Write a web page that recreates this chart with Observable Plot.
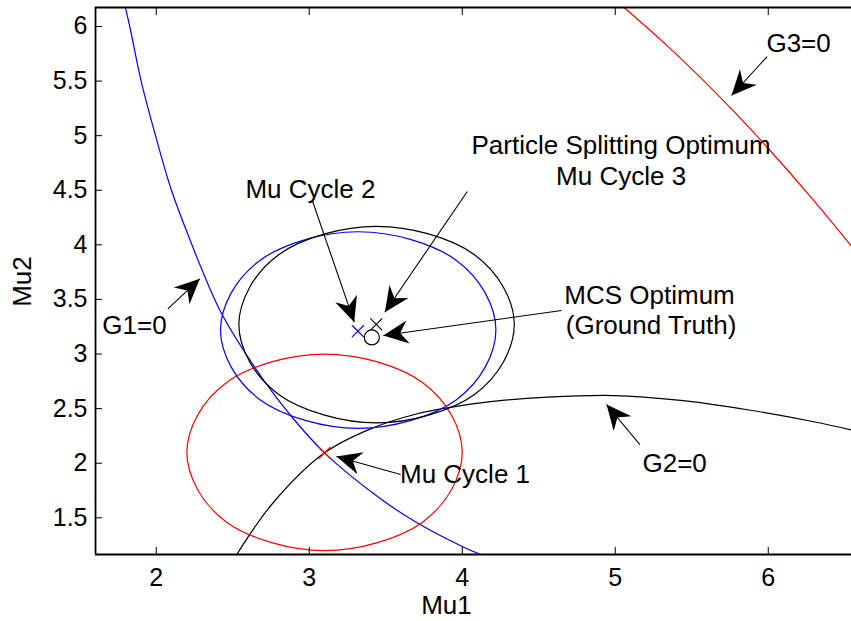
<!DOCTYPE html>
<html><head><meta charset="utf-8">
<script src="https://cdn.jsdelivr.net/npm/d3@7"></script>
<script src="https://cdn.jsdelivr.net/npm/@observablehq/plot@0.6"></script>
<style>
html,body{margin:0;padding:0;background:#fff;}
#chart{width:851px;height:621px;overflow:hidden;}
</style></head><body><div id="chart"></div>
<script>
// ---- axis data ----
const xTicks = [2, 3, 4, 5, 6];
const yTicks = [1.5, 2, 2.5, 3, 3.5, 4, 4.5, 5, 5.5, 6];
const xDomain = [1.603, 6.544];
const yDomain = [1.164, 6.174];
const xLabel = "Mu1";
const yLabel = "Mu2";

// ---- constraint boundaries ----
const g1X = [1.797, 1.827, 1.902, 1.995, 2.100, 2.235, 2.290, 2.425, 2.703, 2.878, 3.100, 3.466, 3.716, 4.010, 4.152];
const g1Y = [6.180, 6.000, 5.496, 5.002, 4.498, 3.994, 3.802, 3.376, 2.758, 2.438, 2.095, 1.674, 1.445, 1.231, 1.146];

const g2X = [2.520, 2.760, 3.100, 3.401, 3.706, 3.910, 4.185, 4.556, 4.991, 5.427, 5.863, 6.298, 6.560];
const g2Y = [1.150, 1.631, 2.095, 2.315, 2.453, 2.510, 2.565, 2.605, 2.620, 2.575, 2.490, 2.380, 2.300];

const g3X = [5.013, 5.067, 5.340, 5.558, 5.775, 5.993, 6.298, 6.560];
const g3Y = [6.226, 6.162, 5.823, 5.532, 5.222, 4.894, 4.406, 3.960];

// ---- Mu cycle contours ----
const cycle1X = [4.00, 3.93, 3.74, 3.44, 3.10, 2.76, 2.46, 2.27, 2.20, 2.27, 2.46, 2.76, 3.10, 3.44, 3.74, 3.93];
const cycle1Y = [2.10, 2.44, 2.74, 2.93, 3.00, 2.93, 2.74, 2.44, 2.10, 1.76, 1.46, 1.27, 1.20, 1.27, 1.46, 1.76];

const cycle2X = [4.22, 4.15, 3.96, 3.66, 3.32, 2.98, 2.68, 2.49, 2.42, 2.49, 2.68, 2.98, 3.32, 3.66, 3.96, 4.15];
const cycle2Y = [3.22, 3.56, 3.86, 4.05, 4.12, 4.05, 3.86, 3.56, 3.22, 2.88, 2.58, 2.39, 2.32, 2.39, 2.58, 2.88];

const cycle3X = [4.34, 4.27, 4.08, 3.78, 3.44, 3.10, 2.80, 2.61, 2.54, 2.61, 2.80, 3.10, 3.44, 3.78, 4.08, 4.27];
const cycle3Y = [3.27, 3.61, 3.91, 4.10, 4.17, 4.10, 3.91, 3.61, 3.27, 2.93, 2.63, 2.44, 2.37, 2.44, 2.63, 2.93];

// ---- optima ----
const optCycle1 = [3.100, 2.095];
const optCycle2 = [3.318, 3.209];
const optCycle3 = [3.438, 3.271];
const optMCS = [3.409, 3.152];

// ---- annotation arrows (tail -> tip) ----
const arrowName = ["G1", "Mu2", "Mu3", "MCS", "Mu1", "G2", "G3"];
const arrowX1 = [2.076, 3.020, 4.033, 4.649, 3.597, 5.161, 5.993];
const arrowY1 = [3.414, 4.406, 4.489, 3.399, 1.897, 2.171, 5.725];
const arrowX2 = [2.285, 3.294, 3.494, 3.484, 3.178, 4.943, 5.760];
const arrowY2 = [3.689, 3.292, 3.383, 3.170, 2.062, 2.538, 5.368];

// ---- annotation texts ----
const noteText = ["Particle Splitting Optimum", "Mu Cycle 3", "Mu Cycle 2", "MCS Optimum", "(Ground Truth)", "G1=0", "Mu Cycle 1", "G2=0", "G3=0"];
const noteX = [5.038, 5.038, 3.008, 5.224, 5.234, 1.858, 4.018, 5.388, 6.198];
const noteY = [4.905, 4.622, 4.510, 3.536, 3.261, 3.261, 1.897, 1.997, 5.844];

// ---- axis title positions ----
const xLabelPos = [3.897, 0.697];
const yLabelPos = [1.129, 3.664];

// build tables
const toPts = (xs, ys) => xs.map((x, i) => ({x, y: ys[i]}));
const g1 = toPts(g1X, g1Y), g2 = toPts(g2X, g2Y), g3 = toPts(g3X, g3Y);
const c1 = toPts(cycle1X, cycle1Y), c2 = toPts(cycle2X, cycle2Y), c3 = toPts(cycle3X, cycle3Y);
const arrows = arrowName.map((n, i) => ({n, x1: arrowX1[i], y1: arrowY1[i], x2: arrowX2[i], y2: arrowY2[i]}));
const notes = noteText.map((t, i) => ({t, x: noteX[i], y: noteY[i]}));

function headMarker(color, context) {
  const doc = (context && context.document) || document;
  const ns = "http://www.w3.org/2000/svg";
  const m = doc.createElementNS(ns, "marker");
  m.setAttribute("viewBox", "-28 -14 30 28");
  m.setAttribute("markerWidth", "30");
  m.setAttribute("markerHeight", "28");
  m.setAttribute("markerUnits", "userSpaceOnUse");
  m.setAttribute("refX", "0");
  m.setAttribute("refY", "0");
  m.setAttribute("orient", "auto");
  const p = doc.createElementNS(ns, "path");
  p.setAttribute("d", "M0,0L-25,-11.5L-17,0L-25,11.5Z");
  p.setAttribute("fill", color);
  p.setAttribute("stroke", "none");
  m.appendChild(p);
  return m;
}

const FONT = "'Liberation Sans', Arial, Helvetica, sans-serif";

function build(marker) {
  return Plot.plot({
    width: 851, height: 621,
    marginLeft: 95, marginRight: 0, marginTop: 7, marginBottom: 67,
    style: {fontFamily: FONT, background: "white", color: "black"},
    x: {domain: xDomain, label: null},
    y: {domain: yDomain, label: null},
    marks: [
      Plot.line(g1, {x: "x", y: "y", stroke: "#0000ff", strokeWidth: 1.2, curve: "catmull-rom", clip: true}),
      Plot.line(g2, {x: "x", y: "y", stroke: "black", strokeWidth: 1.2, curve: "catmull-rom", clip: true}),
      Plot.line(g3, {x: "x", y: "y", stroke: "#ff0000", strokeWidth: 1.2, curve: "catmull-rom", clip: true}),
      Plot.line(c1, {x: "x", y: "y", stroke: "#ff0000", strokeWidth: 1.2, curve: "catmull-rom-closed", clip: true}),
      Plot.line(c2, {x: "x", y: "y", stroke: "#0000ff", strokeWidth: 1.2, curve: "catmull-rom-closed", clip: true}),
      Plot.line(c3, {x: "x", y: "y", stroke: "black", strokeWidth: 1.2, curve: "catmull-rom-closed", clip: true}),
      Plot.dot([optCycle1], {x: d => d[0], y: d => d[1], symbol: "times", r: 5.5, stroke: "#ff0000", strokeWidth: 1.1}),
      Plot.dot([optCycle2], {x: d => d[0], y: d => d[1], symbol: "times", r: 5.5, stroke: "#0000ff", strokeWidth: 1.1}),
      Plot.dot([optCycle3], {x: d => d[0], y: d => d[1], symbol: "times", r: 5.5, stroke: "black", strokeWidth: 1.1}),
      Plot.dot([optMCS], {x: d => d[0], y: d => d[1], symbol: "circle", r: 7.5, stroke: "black", fill: "white", strokeWidth: 1.2}),
      Plot.link(arrows, {x1: "x1", y1: "y1", x2: "x2", y2: "y2", stroke: "black", strokeWidth: 1.1, markerEnd: marker}),
      Plot.text(notes, {x: "x", y: "y", text: "t", fontSize: 26, fill: "black", textAnchor: "middle", lineAnchor: "middle"}),
      // frame lines (left, bottom, top)
      Plot.ruleY([yDomain[0], yDomain[1]], {stroke: "black", strokeWidth: 1.8}),
      Plot.ruleX([xDomain[0]], {stroke: "black", strokeWidth: 1.8}),
      // axes with inward ticks
      Plot.axisX({anchor: "bottom", ticks: xTicks, tickSize: -7, tickPadding: 21, fontSize: 25, label: null, tickFormat: d => String(d)}),
      Plot.axisX({anchor: "top", ticks: xTicks, tickSize: -7, label: null, tickFormat: () => ""}),
      Plot.axisY({anchor: "left", ticks: yTicks, tickSize: -7, tickPadding: 15, fontSize: 25, label: null, tickFormat: d => String(d)}),
      // axis titles
      Plot.text([xLabelPos], {x: d => d[0], y: d => d[1], text: () => xLabel, fontSize: 26, fill: "black", lineAnchor: "middle"}),
      Plot.text([yLabelPos], {x: d => d[0], y: d => d[1], text: () => yLabel, fontSize: 26, fill: "black", rotate: -90, lineAnchor: "middle"})
    ]
  });
}

let chart;
try { chart = build(headMarker); } catch (e) { console.error(e); chart = build("arrow"); }
document.getElementById("chart").appendChild(chart);
</script>
</body></html>
